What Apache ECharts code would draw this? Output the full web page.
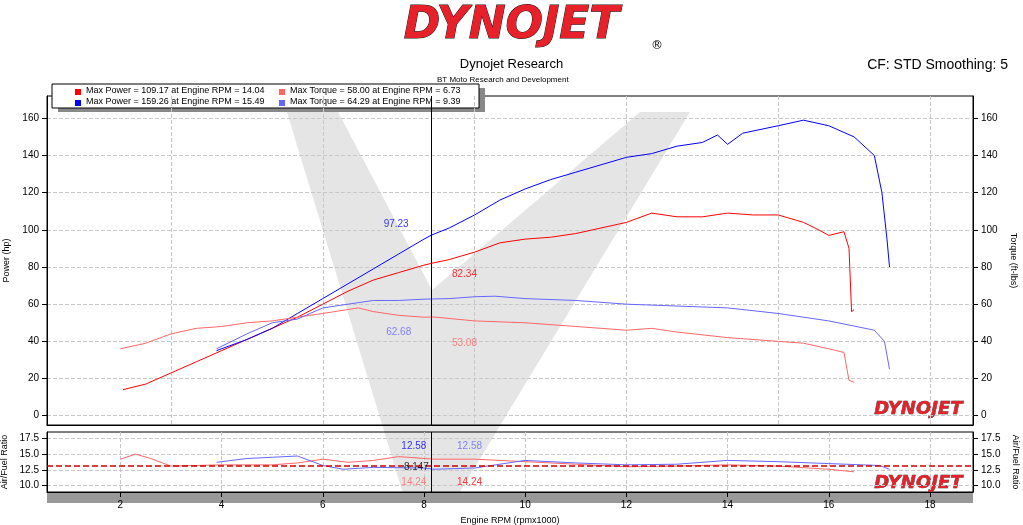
<!DOCTYPE html>
<html><head><meta charset="utf-8">
<script src="https://cdn.jsdelivr.net/npm/echarts@6/dist/echarts.min.js"></script>
<style>html,body{margin:0;background:#fff}#c{width:1023px;height:525px}</style>
</head><body><div id="c"></div>
<script>
// 两次测试数据（rpm x1000, 数值）
const powerRed = [[2.05,14],[2.5,17],[3,23],[3.5,29],[4,35],[4.5,41],[5,47],[5.5,53],[6,60],[6.5,67],[7,73],[7.5,77],[8,81],[8.2,82.3],[8.5,84],[9,88],[9.5,93],[10,95],[10.5,96],[11,98],[11.5,101],[12,104],[12.5,109],[13,107],[13.5,107],[14,109],[14.5,108],[15,108],[15.5,104],[15.8,100],[16,97],[16.3,99],[16.4,90],[16.45,56],[16.5,57]];
const powerBlue = [[3.9,35],[4.5,41],[5,47],[5.5,55],[6,63],[6.5,71],[7,79],[7.5,87],[8,95],[8.15,97.2],[8.5,101],[9,108],[9.5,116],[10,122],[10.5,127],[11,131],[11.5,135],[12,139],[12.5,141],[13,145],[13.5,147],[13.8,151],[14,146],[14.3,152],[15,156],[15.5,159],[16,156],[16.5,150],[16.9,140],[17.05,120],[17.15,95],[17.2,80]];
const torqueRed = [[2,36],[2.5,39],[3,44],[3.5,47],[4,48],[4.5,50],[5,51],[5.5,53],[6,55],[6.7,58],[7,56],[7.5,54],[8,53],[8.2,53.1],[9,51],[10,50],[11,48],[12,46],[12.5,47],[13,45],[14,42],[15,40],[15.5,39],[16,36],[16.3,34],[16.4,19],[16.5,18]];
const torqueBlue = [[3.9,36],[4.5,44],[5,50],[5.5,52],[6,58],[6.5,60],[7,62],[7.5,62],[8,62.7],[8.5,63],[9,64],[9.4,64.3],[10,63],[11,62],[12,60],[13,59],[14,58],[15,55],[16,51],[16.9,46],[17.1,40],[17.2,25]];
const afrRed = [[2,14.2],[2.3,15],[2.6,14.3],[3,13.1],[4,13.3],[5,13.3],[5.5,13.6],[6,14.2],[6.5,13.7],[7,14],[7.5,14.6],[8.2,14.2],[9,14.2],[10,13.8],[11,13.4],[12,13],[13,13.1],[14,13.3],[15,13.1],[16,12.6],[16.5,12.2]];
const afrBlue = [[3.9,13.7],[4.5,14.3],[5,14.5],[5.5,14.7],[6,13.2],[6.4,12.6],[7,12.9],[8,12.8],[8.2,12.6],[9,12.8],[10,14],[11,13.6],[12,13.3],[13,13.4],[14,14],[15,13.8],[16,13.5],[17,13.2],[17.2,12.6]];
const rpmTicks = [2,4,6,8,10,12,14,16,18];
const mainTicks = [0,20,40,60,80,100,120,140,160];
const afrTicks = [10,12.5,15,17.5];
const cursorRpm = 8.147;
const afrTarget = 13.1;
// 光标处读数标注：[rpm, 值, 文字]
const mainNotes = [[7.45,103,'97.23','#0000ff'],[8.8,76,'82.34','#ff0000'],[7.5,45,'62.68','#6666ff'],[8.8,39,'53.08','#ff6666']];
const afrNotes = [[7.8,16.3,'12.58','#0000ff'],[8.9,16.3,'12.58','#6666ff'],[7.8,10.5,'14.24','#ff6666'],[8.9,10.5,'14.24','#ff0000'],[7.85,12.9,'8.147','#000000']];

const RED='#ff0000', BLUE='#0000ff', LRED='#ff6666', LBLUE='#6666ff';
const F='"Liberation Sans", Arial';
const chart = echarts.init(document.getElementById('c'));
function axis(ticks, extra, fmt) {
  return Object.assign({
    type:'value',
    axisLine:{onZero:false,lineStyle:{color:'#000'}},
    axisTick:{customValues:ticks,lineStyle:{color:'#000'}},
    axisLabel:{customValues:ticks,color:'#000',fontSize:10,fontFamily:F,formatter:fmt},
    splitLine:{lineStyle:{color:'#c8c8c8',type:'dashed'}}
  }, extra);
}
const nm = (t,rot)=>({name:t,nameLocation:'middle',nameGap:34,nameRotate:rot,nameTextStyle:{fontSize:9,color:'#000',fontFamily:F}});
const noteSeries = (notes, xi, yi) => ({
  type:'scatter',xAxisIndex:xi,yAxisIndex:yi,symbolSize:1,z:10,
  data:notes.map(n=>({value:[n[0],n[1]],itemStyle:{color:'rgba(0,0,0,0)'},label:{color:n[3]},name:n[2]})),
  label:{show:true,position:'inside',formatter:p=>p.name,fontSize:10,fontFamily:F}
});
chart.setOption({
  animation:false,
  grid:[{left:47,right:50,top:96,height:329,outerBoundsMode:'none',show:true,borderColor:'#000',borderWidth:1},
        {left:47,right:50,top:432,height:60,outerBoundsMode:'none',show:true,borderColor:'#000',borderWidth:1}],
  xAxis:[
    axis(rpmTicks,{gridIndex:0,min:0.55,max:18.85,axisLabel:{show:false},axisTick:{show:false}}),
    axis(rpmTicks,Object.assign({gridIndex:1,min:0.55,max:18.85},nm('Engine RPM (rpmx1000)',0),{nameGap:24}),v=>v)
  ],
  yAxis:[
    axis(mainTicks,Object.assign({gridIndex:0,min:-5,max:172},nm('Power (hp)',90))),
    axis(mainTicks,Object.assign({gridIndex:0,position:'right',min:-5,max:172,splitLine:{show:false}},nm('Torque (ft-lbs)',-90))),
    axis(afrTicks,Object.assign({gridIndex:1,min:9,max:18.5},nm('Air/Fuel Ratio',90)),v=>v.toFixed(1)),
    axis(afrTicks,Object.assign({gridIndex:1,position:'right',min:9,max:18.5,splitLine:{show:false}},nm('Air/Fuel Ratio',-90)),v=>v.toFixed(1))
  ],
  graphic:[
    {type:'polygon',z:-1,shape:{points:[[285,106],[335,106],[432,290],[640,112],[690,112],[455,500],[405,500]]},style:{fill:'rgba(0,0,0,0.1)'}},
    {type:'text',left:'center',top:4,style:{text:'DYNOJET',font:'italic 900 44px "DejaVu Sans"',fill:'#e8202a',stroke:'#111',lineWidth:1}},
    {type:'text',left:651,top:40,style:{text:'®',font:'12px "DejaVu Sans"',fill:'#000'}},
    {type:'text',left:'center',top:58,style:{text:'Dynojet Research',font:'13px '+F,fill:'#000'}},
    {type:'text',left:437,top:76,style:{text:'BT Moto Research and Development',font:'8px '+F,fill:'#000'}},
    {type:'text',right:15,top:58,style:{text:'CF: STD Smoothing: 5',font:'14px '+F,fill:'#000'}},
    {type:'rect',shape:{x:58,y:88,width:427,height:24},style:{fill:'#888'}},
    {type:'rect',shape:{x:52,y:84,width:427,height:24},style:{fill:'#fff',stroke:'#000',lineWidth:1}},
    {type:'rect',shape:{x:75,y:89,width:6,height:6},style:{fill:RED}},
    {type:'rect',shape:{x:75,y:100,width:6,height:6},style:{fill:BLUE}},
    {type:'rect',shape:{x:279,y:89,width:6,height:6},style:{fill:LRED}},
    {type:'rect',shape:{x:279,y:100,width:6,height:6},style:{fill:LBLUE}},
    {type:'text',left:86,top:86,style:{text:'Max Power = 109.17 at Engine RPM = 14.04',font:'9px '+F,fill:'#000'}},
    {type:'text',left:86,top:97,style:{text:'Max Power = 159.26 at Engine RPM = 15.49',font:'9px '+F,fill:'#000'}},
    {type:'text',left:290,top:86,style:{text:'Max Torque = 58.00 at Engine RPM = 6.73',font:'9px '+F,fill:'#000'}},
    {type:'text',left:290,top:97,style:{text:'Max Torque = 64.29 at Engine RPM = 9.39',font:'9px '+F,fill:'#000'}},
    {type:'rect',shape:{x:47,y:492,width:926,height:11},style:{fill:'#999'}},
    {type:'text',left:874,top:400,style:{text:'DYNOJET',font:'italic 900 18px "DejaVu Sans"',fill:'#e8202a',stroke:'#111',lineWidth:0.5}},
    {type:'text',left:874,top:474,style:{text:'DYNOJET',font:'italic 900 18px "DejaVu Sans"',fill:'#e8202a',stroke:'#111',lineWidth:0.5}}
  ],
  series:[
    {type:'line',data:powerRed,showSymbol:false,lineStyle:{color:RED,width:1},color:RED,
      markLine:{symbol:'none',silent:true,label:{show:false},lineStyle:{color:'#000',type:'solid',width:1},data:[{xAxis:cursorRpm}]}},
    {type:'line',data:powerBlue,showSymbol:false,lineStyle:{color:BLUE,width:1},color:BLUE},
    {type:'line',yAxisIndex:1,data:torqueRed,showSymbol:false,lineStyle:{color:LRED,width:1},color:LRED},
    {type:'line',yAxisIndex:1,data:torqueBlue,showSymbol:false,lineStyle:{color:LBLUE,width:1},color:LBLUE},
    {type:'line',xAxisIndex:1,yAxisIndex:2,data:afrRed,showSymbol:false,lineStyle:{color:LRED,width:1},color:LRED,
      markLine:{symbol:'none',silent:true,label:{show:false},lineStyle:{color:'#cc0000',type:'dashed',width:1.5},data:[{yAxis:afrTarget}]}},
    {type:'line',xAxisIndex:1,yAxisIndex:2,data:afrBlue,showSymbol:false,lineStyle:{color:LBLUE,width:1},color:LBLUE,
      markLine:{symbol:'none',silent:true,label:{show:false},lineStyle:{color:'#000',type:'solid',width:1},data:[{xAxis:cursorRpm}]}},
    noteSeries(mainNotes,0,0),
    noteSeries(afrNotes,1,2)
  ]
});
</script></body></html>
